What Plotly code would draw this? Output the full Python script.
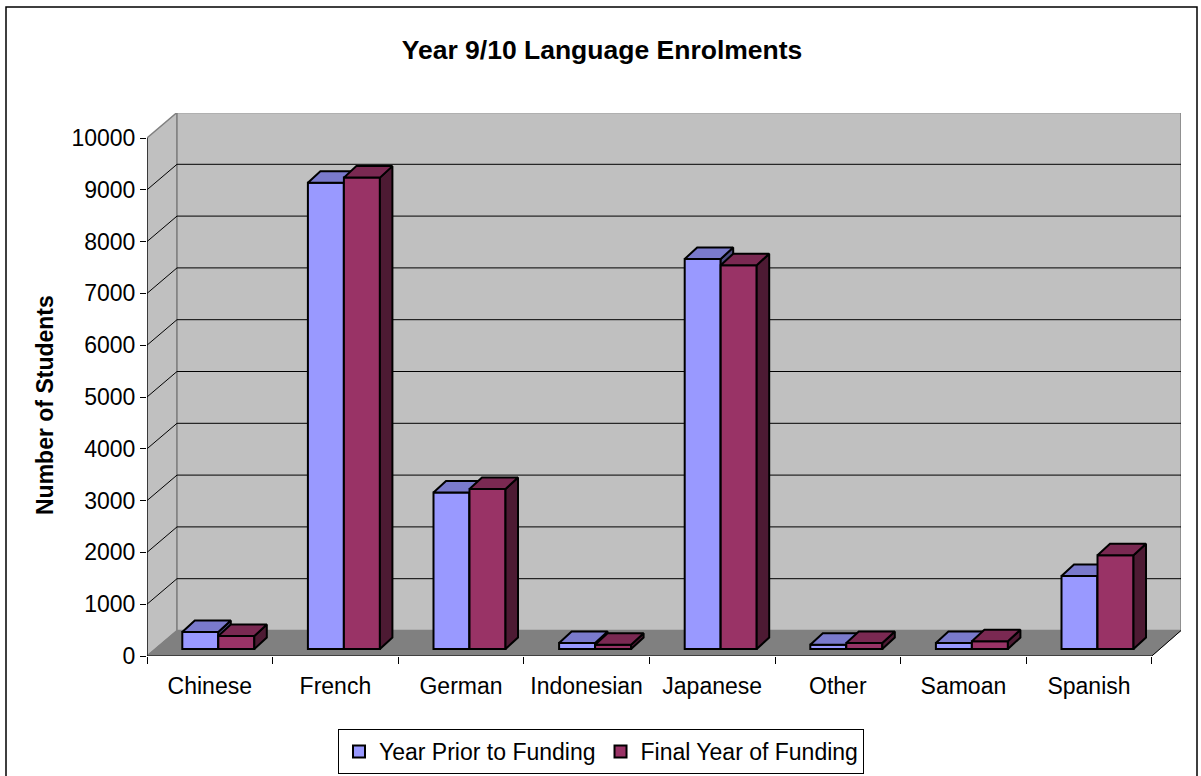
import plotly.graph_objects as go

# Data
categories = ["Chinese", "French", "German", "Indonesian", "Japanese", "Other", "Samoan", "Spanish"]
prior_year = [330, 9000, 3020, 115, 7530, 80, 115, 1410]
final_year = [250, 9100, 3090, 80, 7410, 115, 150, 1810]
value_ticks = [0, 1000, 2000, 3000, 4000, 5000, 6000, 7000, 8000, 9000, 10000]
series_names = ["Year Prior to Funding", "Final Year of Funding"]
title_text = "Year 9/10 Language Enrolments"
y_title = "Number of Students"

# Pixel frame of the front plane of the chart
W, H = 1201, 776
PL, PR, PT, PB = 147, 1181, 113, 656
PX_X = 125.6          # px per category
PX_Y = 0.0518         # px per student

xmax = (PR - PL) / PX_X
ymax = (PB - PT) / PX_Y
n = len(categories)

wall_dx = 30 / PX_X
wall_dy = 25.5 / PX_Y
bar_w = 36 / PX_X
bar_dx = 12.5 / PX_X
bar_dy = 11.5 / PX_Y
bar_base = 7 / PX_Y
bar_shift = 8.5 / PX_X
edge = 2.0

BLACK = "#000000"
GREY = "#808080"
WALL = "#C0C0C0"
font = "Liberation Sans"

fig = go.Figure()


def poly(xs, ys, fill, line, width=1.0, xa="x", ya="y"):
    fig.add_trace(go.Scatter(
        x=xs + xs[:1], y=ys + ys[:1], mode="lines", fill="toself", fillcolor=fill,
        line=dict(color=line, width=width), showlegend=False, hoverinfo="skip",
        xaxis=xa, yaxis=ya, cliponaxis=False))


def path(xs, ys, color, width=1.0):
    fig.add_trace(go.Scatter(
        x=xs, y=ys, mode="lines", line=dict(color=color, width=width),
        showlegend=False, hoverinfo="skip", cliponaxis=False))


top_v = value_ticks[-1]
back_right = xmax
# side wall and back wall
poly([0, 0, wall_dx, wall_dx], [0, top_v, top_v + wall_dy, wall_dy], WALL, GREY, 1.5)
poly([wall_dx, wall_dx, back_right, back_right],
     [wall_dy, top_v + wall_dy, top_v + wall_dy, wall_dy], WALL, GREY, 1.5)
# floor
poly([0, wall_dx, back_right, n], [0, wall_dy, wall_dy, 0], GREY, GREY, 1.0)
# grid lines
for v in value_ticks[1:-1]:
    path([0, wall_dx, back_right], [v, v + wall_dy, v + wall_dy], BLACK, 1.0)
# front axis lines and the floor's right edge
path([0, 0], [0, top_v], BLACK, 1.2)
path([0, n], [0, 0], BLACK, 1.2)
path([n, back_right], [0, wall_dy], BLACK, 1.0)


def add_series(values, start, name, front, top, side, xa, ya):
    xs = [i + 0.5 + bar_shift + start * bar_w + bar_w / 2 for i in range(n)]
    fig.add_trace(go.Bar(
        x=xs, y=values, base=[bar_base] * n, width=bar_w, name=name,
        marker=dict(color=front, line=dict(color=BLACK, width=edge)),
        xaxis=xa, yaxis=ya, hovertext=categories, cliponaxis=False))
    for cx, v in zip(xs, values):
        x0, x1 = cx - bar_w / 2, cx + bar_w / 2
        y0, y1 = bar_base, bar_base + v
        poly([x1, x1 + bar_dx, x1 + bar_dx, x1],
             [y0, y0 + bar_dy, y1 + bar_dy, y1], side, BLACK, edge, xa, ya)
        poly([x0, x0 + bar_dx, x1 + bar_dx, x1],
             [y1, y1 + bar_dy, y1 + bar_dy, y1], top, BLACK, edge, xa, ya)


add_series(prior_year, -1, series_names[0], "#9999FF", "#7A7ACC", "#4D4D80", "x2", "y2")
add_series(final_year, 0, series_names[1], "#993366", "#7A2952", "#4D1A33", "x3", "y3")

hidden_x = dict(range=[0, xmax], visible=False, overlaying="x", anchor="y")
hidden_y = dict(range=[0, ymax], visible=False, overlaying="y", anchor="x")

fig.update_layout(
    width=W, height=H, autosize=False,
    margin=dict(l=PL, r=W - PR, t=PT, b=H - PB, pad=0, autoexpand=False),
    paper_bgcolor="white", plot_bgcolor="white",
    font=dict(family=font, color=BLACK, size=23),
    title=dict(text=f"<b>{title_text}</b>", x=602 / W, xanchor="center",
               y=1 - 50 / H, yanchor="middle", font=dict(size=26.5), automargin=False),
    xaxis=dict(range=[0, xmax], tickmode="array",
               tickvals=[i + 0.5 for i in range(n)], ticktext=categories,
               ticks="", showgrid=False, zeroline=False, showline=False,
               ticklabelstandoff=14,
               minor=dict(tickmode="array", tickvals=list(range(n + 1)), ticks="outside",
                          ticklen=7, tickwidth=1, tickcolor=BLACK, showgrid=False)),
    yaxis=dict(range=[0, ymax], tickmode="array", tickvals=value_ticks,
               ticktext=[str(v) for v in value_ticks],
               ticks="outside", ticklen=6, tickwidth=1, tickcolor=BLACK,
               showgrid=False, zeroline=False, showline=False),
    xaxis2=hidden_x, yaxis2=hidden_y, xaxis3=hidden_x, yaxis3=hidden_y,
    legend=dict(orientation="h", x=(601 - PL) / (PR - PL), xanchor="center",
                y=(PB - 729) / (PB - PT), yanchor="top",
                bordercolor=BLACK, borderwidth=1, bgcolor="white",
                font=dict(size=23), itemclick=False, itemdoubleclick=False),
    hovermode="closest",
    annotations=[dict(text=f"<b>{y_title}</b>", textangle=-90, showarrow=False,
                      xref="paper", yref="paper",
                      x=(45 - PL) / (PR - PL), y=(PB - 405) / (PB - PT),
                      xanchor="center", yanchor="middle", font=dict(size=23))],
    shapes=[dict(type="rect", xref="paper", yref="paper",
                 x0=(6 - PL) / (PR - PL), x1=(1197 - PL) / (PR - PL),
                 y0=(PB - 790) / (PB - PT), y1=(PB - 7) / (PB - PT),
                 line=dict(color=BLACK, width=1.5), fillcolor="rgba(0,0,0,0)", layer="below")],
)

fig.write_html("out.html", post_script="document.body.style.margin='0';document.documentElement.style.overflow='hidden';",
               config={"displayModeBar": False})
